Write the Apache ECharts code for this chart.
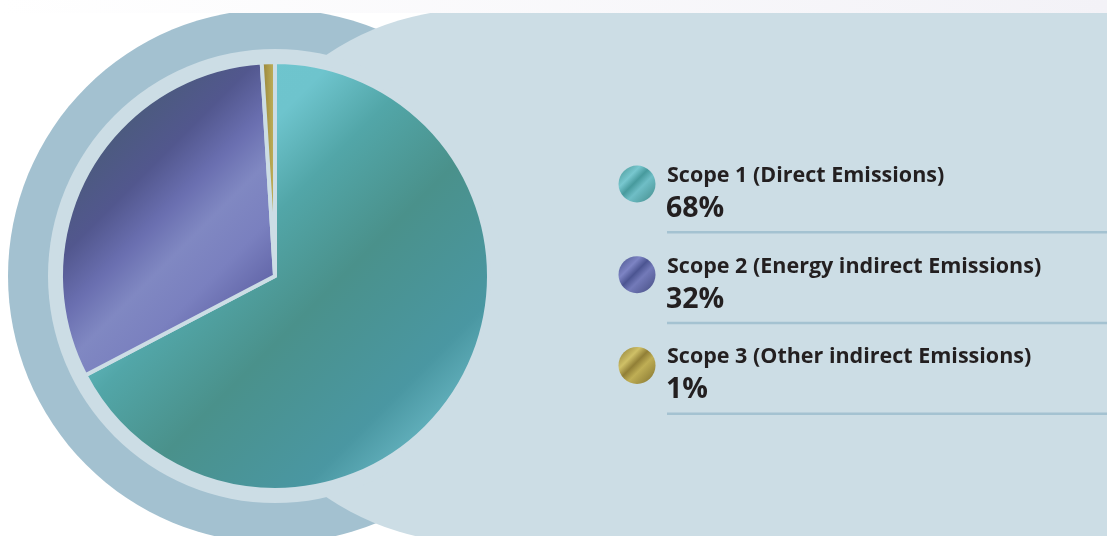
<!DOCTYPE html>
<html>
<head>
<meta charset="utf-8">
<script src="https://cdn.jsdelivr.net/npm/echarts@6/dist/echarts.min.js"></script>
<style>
  html, body { margin: 0; padding: 0; background: #ffffff; }
  #chart { width: 1107px; height: 536px; }
</style>
</head>
<body>
<div id="chart"></div>
<script>
// emission share by scope
const categories = ["Scope 1 (Direct Emissions)", "Scope 2 (Energy indirect Emissions)", "Scope 3 (Other indirect Emissions)"];
const shares = [68, 32, 1];
const shareLabels = ["68%", "32%", "1%"];

const G = echarts.graphic.LinearGradient;
// metallic fills for the slices (page coords)
const sliceFills = [
  new G(60, 60, 490, 490, [
    { offset: 0, color: "#70c7d0" },
    { offset: 0.32, color: "#6ec4cd" },
    { offset: 0.43, color: "#52a6a8" },
    { offset: 0.58, color: "#4a918b" },
    { offset: 0.78, color: "#4a97a2" },
    { offset: 0.86, color: "#62b0bc" },
    { offset: 0.92, color: "#53a5b1" },
    { offset: 1, color: "#4c9daa" },
  ], true),
  new G(60, 60, 490, 490, [
    { offset: 0, color: "#475a72" },
    { offset: 0.14, color: "#4b5b7d" },
    { offset: 0.23, color: "#52578e" },
    { offset: 0.3, color: "#6a6fb0" },
    { offset: 0.36, color: "#8088c2" },
    { offset: 0.43, color: "#7a80bf" },
    { offset: 0.5, color: "#6468aa" },
    { offset: 1, color: "#5a5f9b" },
  ], true),
  new G(0, 0, 1, 0, [
    { offset: 0, color: "#8f7c34" },
    { offset: 1, color: "#c9ba60" },
  ]),
];
// small round swatches in the legend
const swatchFills = [
  ["#44918e", "#78c7cf", "#479a9d", "#6fbec6", "#408a89"],
  ["#444f86", "#7d84c4", "#4c5592", "#737ab9", "#434b80"],
  ["#86752f", "#cfc067", "#917f36", "#bfae55", "#7f6f2d"],
];

const chart = echarts.init(document.getElementById("chart"));

const legendEls = [];
categories.forEach((name, i) => {
  const base = 182 + i * 90.7;
  const c = swatchFills[i];
  legendEls.push({
    type: "circle", z: 3,
    shape: { cx: 637, cy: base + 2, r: 18.5 },
    style: {
      fill: new G(0, 0, 1, 1, [
        { offset: 0, color: c[0] },
        { offset: 0.3, color: c[1] },
        { offset: 0.45, color: c[2] },
        { offset: 0.6, color: c[3] },
        { offset: 1, color: c[4] },
      ]),
    },
  });
  legendEls.push({
    type: "text", z: 3, x: 667, y: base + 4.7,
    style: { text: name, fill: "#231f20", font: "bold 21.5px 'Open Sans'", textVerticalAlign: "bottom" },
  });
  legendEls.push({
    type: "text", z: 3, x: 666, y: base + 36 + 5.3,
    style: { text: shareLabels[i], fill: "#231f20", font: "bold 28.5px 'Open Sans'", textVerticalAlign: "bottom" },
  });
  legendEls.push({
    type: "rect", z: 3,
    shape: { x: 667, y: base + 49, width: 440, height: 2.5 },
    style: { fill: "#a4c2d1" },
  });
});

const option = {
  animation: false,
  graphic: [
    { type: "circle", z: 0, shape: { cx: 275, cy: 276, r: 267 }, style: { fill: "#a3c1d0" } },
    { type: "circle", z: 1, shape: { cx: 476, cy: 276, r: 267 }, style: { fill: "#ccdde5" } },
    { type: "rect", z: 1, shape: { x: 476, y: 9, width: 640, height: 540 }, style: { fill: "#ccdde5" } },
    { type: "circle", z: 1, shape: { cx: 275, cy: 276, r: 227 }, style: { fill: "#ccdde5" } },
    {
      type: "rect", z: 2, shape: { x: 0, y: 0, width: 1107, height: 13 },
      style: { fill: new G(0, 0, 1, 0, [{ offset: 0, color: "#ffffff" }, { offset: 1, color: "#f3f2f7" }]) },
    },
    ...legendEls,
  ],
  series: [
    {
      type: "pie",
      z: 5,
      center: [275, 276],
      radius: 214,
      startAngle: 90,
      clockwise: true,
      label: { show: false },
      labelLine: { show: false },
      emphasis: { disabled: true },
      itemStyle: { borderColor: "#ccdde5", borderWidth: 4 },
      data: categories.map((name, i) => ({
        name: name,
        value: shares[i],
        itemStyle: { color: sliceFills[i] },
      })),
    },
  ],
};
chart.setOption(option);
window.addEventListener("resize", () => chart.resize());
</script>
</body>
</html>
